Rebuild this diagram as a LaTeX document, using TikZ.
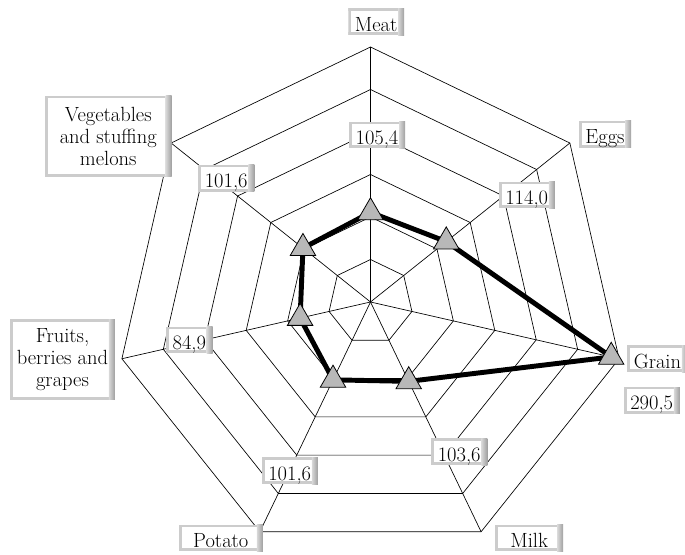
\documentclass[tikz,border=0pt]{standalone}
\usepackage{fontspec}
\usepackage{tikz}
\usetikzlibrary{shapes.geometric}
\definecolor{rimgray}{gray}{0.8}
\definecolor{markgray}{gray}{0.72}
\def\tagfont{\fontsize{15.4}{16.6}\selectfont}
\tikzset{
	ring/.style={line width=0.5pt},
	panel/.style={fill=white, font=\tagfont, inner xsep=5pt, path picture={
		\fill[rimgray] (path picture bounding box.north west) rectangle ([yshift=-1.6pt]path picture bounding box.north east);
		\fill[rimgray] (path picture bounding box.south west) rectangle ([yshift=2.2pt]path picture bounding box.south east);
		\fill[rimgray] (path picture bounding box.south west) rectangle ([xshift=2.2pt]path picture bounding box.north west);
		\shade[left color=gray!30, right color=gray!75] ([xshift=-4.5pt]path picture bounding box.south east) rectangle (path picture bounding box.north east);}},
	tag/.style={panel, inner ysep=1.5pt, text height=15.5pt, text depth=1.5pt},
	tall tag/.style={panel, inner ysep=8.5pt, align=center},
	marker/.style={regular polygon, regular polygon sides=3, draw=black, fill=markgray, line width=0.6pt, minimum size=22pt, inner sep=0pt}
}

\begin{document}
\begin{tikzpicture}[x=0.75pt, y=0.75pt]
		%%%%% START %%%%%
		\useasboundingbox (-370.5,-253) rectangle (314.5,302);
		
		\draw[ring] (90:42.5) -- (38.57:42.5) -- (-12.86:42.5) -- (-64.29:42.5) -- (-115.71:42.5) -- (-167.14:42.5) -- (141.43:42.5) -- cycle;
		\draw[ring] (90:85) -- (38.57:85) -- (-12.86:85) -- (-64.29:85) -- (-115.71:85) -- (-167.14:85) -- (141.43:85) -- cycle;
		\draw[ring] (90:127.5) -- (38.57:127.5) -- (-12.86:127.5) -- (-64.29:127.5) -- (-115.71:127.5) -- (-167.14:127.5) -- (141.43:127.5) -- cycle;
		\draw[ring] (90:170) -- (38.57:170) -- (-12.86:170) -- (-64.29:170) -- (-115.71:170) -- (-167.14:170) -- (141.43:170) -- cycle;
		\draw[ring] (90:212.5) -- (38.57:212.5) -- (-12.86:212.5) -- (-64.29:212.5) -- (-115.71:212.5) -- (-167.14:212.5) -- (141.43:212.5) -- cycle;
		\draw[ring] (90:255) -- (38.57:255) -- (-12.86:255) -- (-64.29:255) -- (-115.71:255) -- (-167.14:255) -- (141.43:255) -- cycle;
		
		\coordinate (hub) at (0,0);
		\draw[ring] (hub) -- (90:255);
		\draw[ring] (hub) -- (38.57:255);
		\draw[ring] (hub) -- (-12.86:255);
		\draw[ring] (hub) -- (-64.29:255);
		\draw[ring] (hub) -- (-115.71:255);
		\draw[ring] (hub) -- (-167.14:255);
		\draw[ring] (hub) -- (141.43:255);
		
		\coordinate (dmeat) at (90:89.6);
		\coordinate (deggs) at (38.57:96.9);
		\coordinate (dgrain) at (-12.86:246.9);
		\coordinate (dmilk) at (-64.29:88.1);
		\coordinate (dpotato) at (-115.71:86.4);
		\coordinate (dfruits) at (-167.14:72.2);
		\coordinate (dveg) at (141.43:86.4);
		\draw[line width=3.7pt, line join=round] (dmeat) -- (deggs) -- (dgrain) -- (dmilk) -- (dpotato) -- (dfruits) -- (dveg) -- cycle;
		
		\node[marker] (tmeat) at (dmeat) {};
		\node[marker] (teggs) at (deggs) {};
		\node[marker] (tgrain) at (dgrain) {};
		\node[marker] (tmilk) at (dmilk) {};
		\node[marker] (tpotato) at (dpotato) {};
		\node[marker] (tfruits) at (dfruits) {};
		\node[marker] (tveg) at (dveg) {};
		
		\node[tag] (meat) at (5.7,280.2) {Meat};
		\node[tag] (vmeat) at (6.5,167) {105,4};
		\node[tag] (eggs) at (234.5,167.8) {Eggs};
		\node[tag] (veggs) at (156.2,107) {114,0};
		\node[tag] (grain) at (287,-56.8) {Grain};
		\node[tag] (vgrain) at (281.2,-98.5) {290,5};
		\node[tag] (vmilk) at (88.7,-149.8) {103,6};
		\node[tag, minimum width=51pt] (milk) at (158.7,-236) {Milk};
		\node[tag, minimum width=63pt] (potato) at (-149.7,-236) {Potato};
		\node[tag] (vpotato) at (-80.8,-168.8) {101,6};
		\node[tag] (vfruits) at (-181.2,-38) {84,9};
		\node[tall tag, inner ysep=6.8pt] (fruits) at (-308,-57.7) {Fruits,\\berries and\\grapes};
		\node[tall tag, minimum width=95pt] (veg) at (-262.2,165.7) {Vegetables\\and stuffing\\melons};
		\node[tag] (vveg) at (-144.3,123.7) {101,6};
		
		%%%%% END %%%%%
\end{tikzpicture}
\end{document}
